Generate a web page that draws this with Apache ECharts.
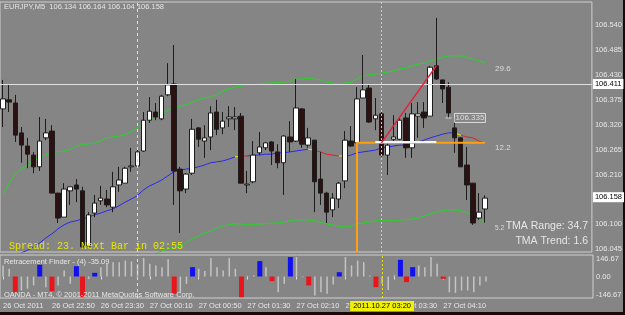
<!DOCTYPE html>
<html>
<head>
<meta charset="utf-8">
<script src="https://cdn.jsdelivr.net/npm/echarts@6.0.0/dist/echarts.min.js"></script>
<style>
  html, body { margin: 0; padding: 0; background: #858585; }
  #chart { width: 625px; height: 315px; }
</style>
</head>
<body>
<div id="chart"></div>
<script>
// EURJPY M5 bars: [open, close, low, high]
var candles = [
  [106.355,106.377,106.315,106.419],[106.375,106.370,106.348,106.408],[106.368,106.297,106.282,106.386],[106.302,106.275,106.236,106.315],
  [106.273,106.255,106.224,106.291],[106.253,106.227,106.213,106.260],[106.227,106.284,106.218,106.337],[106.291,106.302,106.286,106.333],
  [106.306,106.169,106.169,106.319],[106.169,106.114,106.103,106.169],[106.116,106.178,106.116,106.191],[106.174,106.183,106.143,106.183],
  [106.187,106.178,106.149,106.200],[106.174,106.050,106.048,106.183],[106.052,106.121,106.050,106.127],[106.125,106.147,106.116,106.165],
  [106.152,106.158,106.143,106.185],[106.156,106.143,106.138,106.176],[106.138,106.183,106.127,106.216],[106.187,106.198,106.172,106.227],
  [106.191,106.224,106.191,106.227],[106.227,106.229,106.216,106.269],[106.229,106.260,106.227,106.269],[106.262,106.330,106.260,106.348],
  [106.330,106.350,106.324,106.381],[106.348,106.337,106.330,106.368],[106.333,106.383,106.330,106.386],[106.386,106.408,106.383,106.456],
  [106.410,106.218,106.143,106.496],[106.222,106.174,106.081,106.227],[106.178,106.211,106.169,106.213],[106.213,106.310,106.209,106.333],
  [106.313,106.288,106.271,106.315],[106.284,106.291,106.247,106.319],[106.293,106.346,106.264,106.361],[106.348,106.310,106.297,106.375],
  [106.313,106.328,106.299,106.348],[106.333,106.337,106.315,106.361],[106.333,106.337,106.308,106.359],[106.339,106.191,106.191,106.346],
  [106.187,106.189,106.169,106.218],[106.194,106.253,106.191,106.284],[106.258,106.271,106.253,106.304],[106.269,106.280,106.264,106.282],
  [106.282,106.262,106.231,106.284],[106.260,106.236,106.224,106.277],[106.236,106.295,106.165,106.297],[106.293,106.282,106.260,106.328],
  [106.284,106.357,106.282,106.421],[106.355,106.277,106.269,106.357],[106.275,106.291,106.269,106.313],[106.286,106.194,106.127,106.286],
  [106.200,106.169,106.143,106.260],[106.169,106.127,106.103,106.172],[106.132,106.158,106.116,106.169],[106.156,106.191,106.136,106.194],
  [106.196,106.286,106.180,106.306],[106.284,106.273,106.271,106.317],[106.280,106.377,106.280,106.403],[106.379,106.397,106.379,106.474],
  [106.401,106.326,106.324,106.408],[106.333,106.341,106.308,106.379],[106.344,106.253,106.249,106.352],[106.253,106.275,106.209,106.280],
  [106.288,106.293,106.284,106.341],[106.288,106.330,106.286,106.335],[106.335,106.269,106.247,106.346],[106.269,106.344,106.247,106.368],
  [106.339,106.344,106.291,106.370],[106.348,106.335,106.313,106.370],[106.339,106.447,106.339,106.450],[106.450,106.421,106.419,106.556],
  [106.419,106.399,106.368,106.419],[106.403,106.346,106.335,106.414],[106.313,106.291,106.258,106.335],[106.291,106.227,106.227,106.293],
  [106.231,106.187,106.154,106.271],[106.191,106.103,106.099,106.191],[106.114,106.127,106.110,106.169],[106.134,106.158,106.104,106.164]
];

// TMA bands
var upperBand = [
  106.167,106.191,106.211,106.222,106.231,106.242,106.249,106.253,106.258,106.260,
  106.262,106.266,106.273,106.277,106.277,106.280,106.284,106.291,106.293,106.295,
  106.299,106.304,106.313,106.324,106.330,106.339,106.344,106.352,106.359,106.361,
  106.364,106.370,106.375,106.379,106.381,106.386,106.394,106.399,106.403,106.405,
  106.408,106.408,106.410,106.412,106.412,106.414,106.414,106.416,106.421,106.421,
  106.423,106.421,106.419,106.414,106.412,106.410,106.412,106.414,106.421,106.428,
  106.430,106.432,106.434,106.436,106.439,106.443,106.445,106.450,106.454,106.456,
  106.461,106.465,106.469,106.472,106.472,106.472,106.469,106.465,106.461,106.456
];
var middleBand = [
  106.017,106.024,106.030,106.037,106.043,106.050,106.059,106.070,106.079,106.090,
  106.099,106.105,106.108,106.112,106.116,106.121,106.125,106.130,106.134,106.141,
  106.149,106.156,106.163,106.176,106.185,106.191,106.198,106.207,106.216,106.220,
  106.222,106.224,106.227,106.231,106.236,106.238,106.240,106.244,106.249,106.251,
  106.251,106.253,106.253,106.255,106.255,106.258,106.258,106.260,106.262,106.264,
  106.266,106.264,106.260,106.255,106.253,106.251,106.251,106.253,106.258,106.260,
  106.262,106.264,106.269,106.271,106.273,106.275,106.275,106.277,106.282,106.286,
  106.291,106.295,106.299,106.302,106.302,106.297,106.293,106.291,106.284,106.280
];
var lowerBand = [
  null,null,null,null,null,null,null,null,null,null,
  null,null,null,null,null,null,null,null,null,null,
  null,null,null,null,106.028,106.035,106.041,106.046,106.048,106.052,
  106.059,106.068,106.074,106.081,106.085,106.092,106.096,106.099,106.101,106.101,
  106.099,106.099,106.101,106.101,106.103,106.103,106.105,106.108,106.110,106.110,
  106.110,106.108,106.105,106.101,106.099,106.096,106.094,106.096,106.101,106.103,
  106.105,106.108,106.108,106.108,106.108,106.110,106.110,106.112,106.114,106.118,
  106.123,106.127,106.130,106.132,106.132,106.130,106.127,106.121,106.112,106.105
];

// drawn objects: [bar index, price]
var trendOrange = [[58, 106.030], [58, 106.280], [79, 106.280]];
var levelWhite = [[61, 106.282], [71, 106.282]];
var trendRed = [[62, 106.280], [71, 106.450]];
var priceTag = [[73, 106.335]];

// Retracement Finder histogram, signal: B blue, R red, '' grey
var histValues = [
  90,63,-128,-114,-100,-73,95,-87,-120,-73,
  49,-60,84,-169,-20,30,76,103,117,117,
  130,122,100,150,103,90,76,140,-141,-128,
  -60,76,63,44,150,76,49,150,63,-169,
  5,10,125,76,-38,-128,-60,158,158,-5,
  -73,-155,-128,-141,-65,35,158,90,130,117,
  8,-87,-60,-109,10,136,-46,76,90,76,
  158,103,-19,-128,-133,-114,-114,-128,-73,-41
];
var histSignal = [
  '','','R','','','','B','','R','',
  '','','B','R','','B','','','','',
  '','','','','','','','','R','',
  '','B','','','','','','','','R',
  '','','B','','R','','','B','','',
  'R','','','','','B','','','','',
  '','R','','','','B','R','B','','',
  '','','R','','','','','','',''
];

var tickIndex = [0, 8, 16, 24, 32, 40, 48, 56, 64, 72];
var tickText = ['26 Oct 2011', '26 Oct 22:50', '26 Oct 23:30', '27 Oct 00:10', '27 Oct 00:50',
  '27 Oct 01:30', '27 Oct 02:10', '27 Oct 02:50', '27 Oct 03:30', '27 Oct 04:10'];
var priceTicks = [106.045, 106.100, 106.155, 106.210, 106.265, 106.320, 106.375, 106.430, 106.485, 106.540];
var histTicks = [-146.67, 0, 146.67];
var slotCount = 97;

var categories = [];
for (var i = 0; i < slotCount; i++) categories.push(String(i));

var greyHist = [], signalHist = [];
for (var k = 0; k < histValues.length; k++) {
  if (histSignal[k] === '') {
    greyHist.push(histValues[k]);
    signalHist.push('-');
  } else {
    greyHist.push('-');
    signalHist.push({
      value: histValues[k],
      itemStyle: { color: histSignal[k] === 'B' ? '#1010f0' : '#e8161a' }
    });
  }
}

var txt = '#e6e6e6';
var font = 'Liberation Sans';

var chart = echarts.init(document.getElementById('chart'));
var option = {
  backgroundColor: '#858585',
  animation: false,
  title: [
    { text: 'EURJPY,M5  106.134 106.164 106.104 106.158', left: 4, top: 3, padding: 0,
      textStyle: { color: txt, fontSize: 7.5, fontWeight: 'normal', fontFamily: font } },
    { text: 'Spread: 23. Next Bar in 02:55', left: 9, top: 241, padding: 0,
      textStyle: { color: '#e6e600', fontSize: 10, fontWeight: 'normal', fontFamily: 'Liberation Mono' } },
    { text: 'TMA Range: 34.7', right: 37, top: 221, padding: 0,
      textStyle: { color: txt, fontSize: 10.5, fontWeight: 'normal', fontFamily: font } },
    { text: 'TMA Trend: 1.6', right: 37, top: 236, padding: 0,
      textStyle: { color: txt, fontSize: 10.5, fontWeight: 'normal', fontFamily: font } },
    { text: 'Retracement Finder - (4) -35.09', left: 4, top: 258, padding: 0,
      textStyle: { color: txt, fontSize: 7.5, fontWeight: 'normal', fontFamily: font } },
    { text: 'OANDA - MT4, \u00a9 2001-2011 MetaQuotes Software Corp.', left: 4, top: 291, padding: 0,
      textStyle: { color: txt, fontSize: 7.5, fontWeight: 'normal', fontFamily: font } }
  ],
  // dark window frame at right and bottom
  graphic: [
    { type: 'rect', right: 0, top: 0, shape: { width: 2, height: 315 }, style: { fill: '#1a0808' } },
    { type: 'rect', left: 0, bottom: 0, shape: { width: 625, height: 3 }, style: { fill: '#1a0808' } }
  ],
  grid: [
    { left: 0, right: 32, top: 2, height: 250, show: true, borderColor: '#cfcfcf', borderWidth: 1 },
    { left: 0, right: 32, top: 255, height: 43, show: true, borderColor: '#cfcfcf', borderWidth: 1 }
  ],
  visualMap: {
    type: 'piecewise', show: false, seriesIndex: 2, dimension: 0,
    pieces: [
      { lt: 38, color: '#2828f0' },
      { gte: 38, lt: 38.5, color: '#e8e800' },
      { gte: 38.5, lt: 39.9, color: '#e02020' },
      { gte: 39.9, lt: 40.4, color: '#e8e800' },
      { gte: 40.4, lt: 50, color: '#2828f0' },
      { gte: 50, lt: 50.6, color: '#e8e800' },
      { gte: 50.6, lt: 54.8, color: '#e02020' },
      { gte: 54.8, lt: 55.5, color: '#e8e800' },
      { gte: 55.5, lt: 73.6, color: '#2828f0' },
      { gte: 73.6, lt: 74.6, color: '#e8e800' },
      { gte: 74.6, color: '#e02020' }
    ]
  },
  xAxis: [
    { type: 'category', gridIndex: 0, data: categories, boundaryGap: true,
      axisLine: { show: false }, axisTick: { show: false }, axisLabel: { show: false }, splitLine: { show: false } },
    { type: 'category', gridIndex: 1, data: categories, boundaryGap: true,
      axisLine: { show: false },
      axisTick: {
        show: true, alignWithLabel: true, length: 3, lineStyle: { color: '#e0e0e0' },
        interval: function (i) { return tickIndex.indexOf(i) >= 0; }
      },
      axisLabel: {
        interval: function (i) { return tickIndex.indexOf(i) >= 0; },
        align: 'left', margin: 4, color: txt, fontSize: 7.5, fontFamily: font,
        formatter: function (v, i) {
          var p = tickIndex.indexOf(i);
          return p >= 0 ? tickText[p] : '';
        }
      },
      splitLine: { show: false } },
    { type: 'category', gridIndex: 1, data: categories, boundaryGap: true, show: false }
  ],
  yAxis: [
    { type: 'value', gridIndex: 0, position: 'right', min: 106.039, max: 106.591, scale: true,
      splitLine: { show: false }, axisLine: { show: false }, axisTick: { show: false },
      axisLabel: {
        customValues: priceTicks, margin: 3, color: txt, fontSize: 7.5, fontFamily: font,
        formatter: function (v) { return v.toFixed(3); }
      } },
    { type: 'value', gridIndex: 1, position: 'right', min: -175, max: 175,
      splitLine: { show: false }, axisLine: { show: false }, axisTick: { show: false },
      axisLabel: {
        customValues: histTicks, margin: 3, color: txt, fontSize: 7.5, fontFamily: font,
        formatter: function (v) { return v.toFixed(2); }
      } }
  ],
  series: [
    {
      type: 'candlestick', xAxisIndex: 0, yAxisIndex: 0, z: 4,
      barWidth: 5,
      data: candles,
      itemStyle: {
        color: '#ffffff', color0: '#2b1111',
        borderColor: '#1c1c1c', borderColor0: '#1c1c1c', borderColorDoji: '#1c1c1c', borderWidth: 1
      },
      markLine: {
        silent: true, symbol: ['none', 'none'], animation: false,
        label: {
          position: 'end', distance: 1, color: '#000', backgroundColor: '#ffffff',
          padding: [1, 2], fontSize: 7.5, fontFamily: font
        },
        data: [
          { yAxis: 106.411, lineStyle: { color: '#e0e0e0', width: 1, type: 'solid' },
            label: { formatter: '106.411' } },
          { yAxis: 106.158, lineStyle: { color: 'transparent', width: 0 },
            label: { formatter: '106.158' } },
          { xAxis: 22, lineStyle: { color: '#dedede', width: 1, type: [3, 3] }, label: { show: false } },
          { xAxis: 62, lineStyle: { color: '#e6e600', width: 1, type: [2, 2] }, label: { show: false } }
        ]
      }
    },
    {
      name: 'upper', type: 'line', data: upperBand, symbol: 'none', z: 2,
      lineStyle: { color: '#22d822', width: 1 },
      endLabel: { show: true, formatter: '29.6', color: '#dcdcdc', fontSize: 8, fontFamily: font, distance: 10, offset: [0, 6] }
    },
    {
      name: 'middle', type: 'line', data: middleBand, symbol: 'none', z: 2,
      lineStyle: { width: 1 },
      endLabel: { show: true, formatter: '12.2', color: '#dcdcdc', fontSize: 8, fontFamily: font, distance: 10, offset: [0, 5] }
    },
    {
      name: 'lower', type: 'line', data: lowerBand, symbol: 'none', z: 2,
      lineStyle: { color: '#22d822', width: 1 },
      endLabel: { show: true, formatter: '5.2', color: '#dcdcdc', fontSize: 6.5, fontFamily: font, distance: 10, offset: [0, 6] }
    },
    {
      type: 'line', data: trendOrange, symbol: 'none', z: 5,
      lineStyle: { color: '#ffa010', width: 2 }
    },
    {
      type: 'line', data: levelWhite, symbol: 'none', z: 6,
      lineStyle: { color: '#f4f4f4', width: 2 }
    },
    {
      type: 'line', data: trendRed, symbol: 'none', z: 6,
      lineStyle: { color: '#e8203c', width: 1.5 }
    },
    {
      type: 'scatter', data: priceTag, symbol: 'rect', symbolSize: [6, 1], z: 6,
      itemStyle: { color: '#eeeeee' },
      label: {
        show: true, position: 'right', distance: 3, formatter: '106.335',
        color: '#f2f2f2', borderColor: '#f2f2f2', borderWidth: 1, padding: [1, 1, 0, 1],
        fontSize: 8, fontFamily: font
      }
    },
    {
      type: 'bar', xAxisIndex: 1, yAxisIndex: 1, data: greyHist, barWidth: 1.5, z: 3,
      itemStyle: { color: '#c4c4c4' },
      markLine: {
        silent: true, symbol: ['none', 'none'], animation: false,
        data: [
          { xAxis: 22, lineStyle: { color: '#dedede', width: 1, type: [3, 3] }, label: { show: false } },
          { xAxis: 62, lineStyle: { color: '#e6e600', width: 1, type: [2, 2] },
            label: { show: true, position: 'start', distance: 3, formatter: '2011.10.27 03:20',
              color: '#000', backgroundColor: '#f2f200', padding: [1, 3], fontSize: 7.5, fontFamily: font } }
        ]
      }
    },
    {
      type: 'bar', xAxisIndex: 2, yAxisIndex: 1, data: signalHist, barWidth: 5, z: 3
    }
  ]
};
chart.setOption(option);
</script>
</body>
</html>
